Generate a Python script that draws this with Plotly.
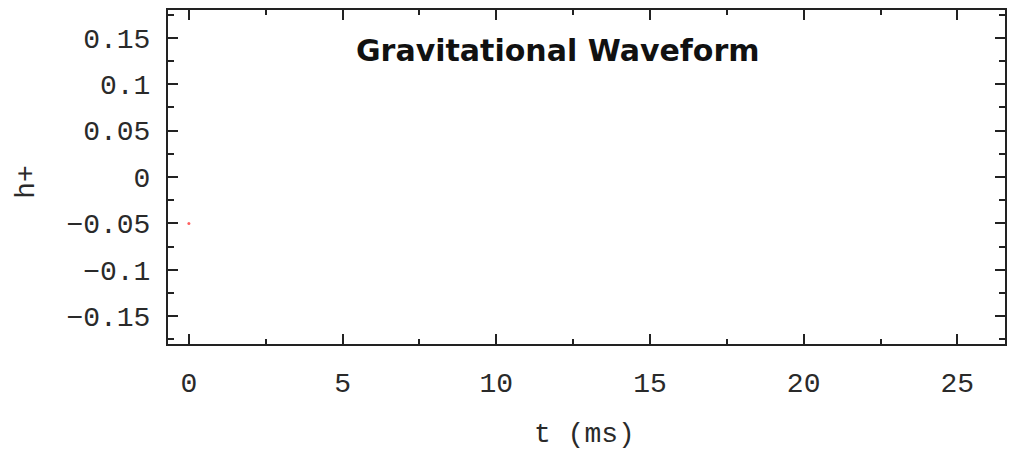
import plotly.graph_objects as go

# Waveform samples: time in ms and plus-polarisation strain
t_ms = [0.0]
h_plus = [-0.05]

x_ticks = [0, 5, 10, 15, 20, 25]
y_ticks = [-0.15, -0.1, -0.05, 0, 0.05, 0.1, 0.15]
y_tick_text = ["\u22120.15", "\u22120.1", "\u22120.05", "0", "0.05", "0.1", "0.15"]

mono = "Liberation Mono, DejaVu Sans Mono, monospace"

fig = go.Figure()
fig.add_trace(go.Scatter(
    x=t_ms, y=h_plus, mode="markers",
    marker=dict(color="#ff6060", size=3, line=dict(width=0)),
    showlegend=False, hoverinfo="skip",
))

axis_common = dict(
    showgrid=False, zeroline=False, showline=True, linecolor="#222222",
    linewidth=2, mirror="ticks", ticks="inside", ticklen=10, tickwidth=2,
    tickcolor="#222222", tickfont=dict(family=mono, size=28, color="#2a2a2a"),
)

fig.update_layout(
    width=1015, height=449,
    margin=dict(l=168, r=8, t=9, b=105),
    paper_bgcolor="white", plot_bgcolor="white",
    xaxis=dict(
        range=[-0.68, 26.55], tickvals=x_ticks,
        ticktext=[str(v) for v in x_ticks],
        minor=dict(dtick=2.5, tick0=0, ticks="inside", ticklen=5,
                   tickwidth=2, tickcolor="#222222"),
        ticklabelstandoff=12,
        **axis_common,
    ),
    yaxis=dict(
        range=[-0.18, 0.18], tickvals=y_ticks, ticktext=y_tick_text,
        minor=dict(dtick=0.025, tick0=0, ticks="inside", ticklen=6,
                   tickwidth=2, tickcolor="#222222"),
        ticklabelstandoff=10,
        **axis_common,
    ),
    annotations=[
        dict(text="<b>Gravitational Waveform</b>", xref="paper", yref="paper",
             x=(559 - 168) / 839, y=(344 - 50) / 335,
             xanchor="center", yanchor="middle", showarrow=False,
             font=dict(family="DejaVu Sans", size=30, color="#111111")),
        dict(text="t (ms)", xref="paper", yref="paper",
             x=(585 - 168) / 839, y=-(435 - 344) / 335,
             xanchor="center", yanchor="middle", showarrow=False,
             font=dict(family=mono, size=28, color="#2a2a2a")),
        dict(text="h+", xref="paper", yref="paper",
             x=-(168 - 26) / 839, y=(344 - 181) / 335, textangle=-90,
             xanchor="center", yanchor="middle", showarrow=False,
             font=dict(family=mono, size=28, color="#2a2a2a")),
    ],
)

fig.write_html("out.html")
